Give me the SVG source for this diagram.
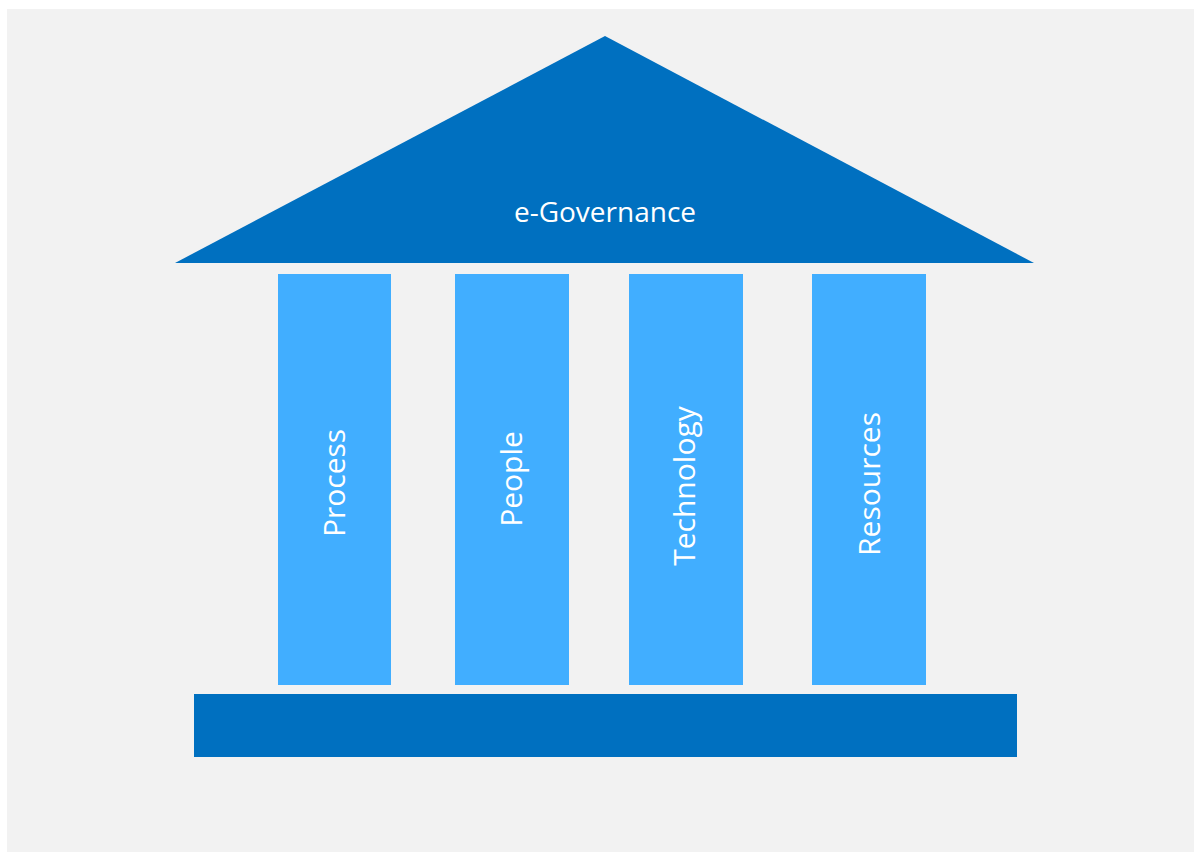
<svg xmlns="http://www.w3.org/2000/svg" width="1195" height="852" viewBox="0 0 1195 852">
  <style>
    .roof { fill: #0070c0; }
    .pillar { fill: #41aeff; }
    .base { fill: #0070c0; }
    .label { fill: #ffffff; font-family: "Open Sans", "Noto Sans", sans-serif; font-size: 30px; text-anchor: middle; }
  </style>
  <!-- backdrop -->
  <rect x="0" y="0" width="1195" height="852" fill="#ffffff"/>
  <rect x="7" y="9" width="1187" height="843" fill="#f2f2f2"/>

  <g id="roof">
    <polygon class="roof" points="605,36 1034,263 175,263"/>
    <text class="label" x="605" y="222" style="font-size:28px">e-Governance</text>
  </g>

  <g id="pillar-process">
    <rect class="pillar" x="278" y="274" width="113" height="411"/>
    <text class="label" transform="translate(345,483) rotate(-90)">Process</text>
  </g>

  <g id="pillar-people">
    <rect class="pillar" x="455" y="274" width="114" height="411"/>
    <text class="label" transform="translate(522,479) rotate(-90)">People</text>
  </g>

  <g id="pillar-technology">
    <rect class="pillar" x="629" y="274" width="114" height="411"/>
    <text class="label" transform="translate(695,486) rotate(-90)">Technology</text>
  </g>

  <g id="pillar-resources">
    <rect class="pillar" x="812" y="274" width="114" height="411"/>
    <text class="label" transform="translate(880,484) rotate(-90)">Resources</text>
  </g>

  <g id="foundation">
    <rect class="base" x="194" y="694" width="823" height="63"/>
  </g>

  <g id="connectors"></g>
</svg>
